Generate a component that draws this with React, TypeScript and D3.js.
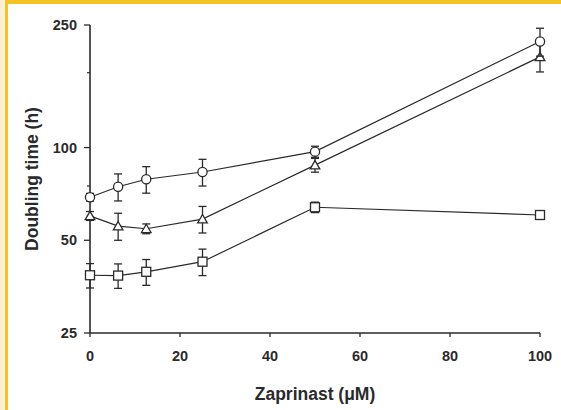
import React from 'react';
import * as d3 from 'd3';

// zaprinast concentrations (uM)
const doses = [0, 6.25, 12.5, 25, 50, 100];

// doubling time (h), mean and +/- error per series
const circleMean = [69, 74.6, 78.9, 83.3, 97, 221];
const circleErr = [2, 7.5, 7.8, 8.3, 4, 23];
const triangleMean = [60, 55.6, 54.5, 58.6, 87.7, 197];
const triangleErr = [2, 5.6, 2, 5.8, 4.5, 21];
const squareMean = [38.5, 38.4, 39.5, 42.6, 64, 60.4];
const squareErr = [3.5, 3.5, 3.8, 4.2, 2.5, 0];

const xTicks = [0, 20, 40, 60, 80, 100];
const yTicks = [25, 50, 100, 250];
const yMinorTicks = [37.5, 75, 175];

const W = 561;
const H = 410;
const ink = '#2a2a2a';
const font = '"Liberation Sans", Arial, sans-serif';

const x = d3.scaleLinear().domain([0, 100]).range([90, 540]);
const y = d3.scaleLog().domain([25, 250]).range([333, 25]);

type Shape = 'circle' | 'triangle' | 'square';

const Marker = ({ shape, cx, cy }: { shape: Shape; cx: number; cy: number }) => {
  const common = { fill: '#fff', stroke: ink, strokeWidth: 1.3 };
  if (shape === 'circle') return <circle cx={cx} cy={cy} r={4.6} {...common} />;
  if (shape === 'square') return <rect x={cx - 4.5} y={cy - 4.5} width={9} height={9} {...common} />;
  const tri = d3.symbol().type(d3.symbolTriangle).size(40)();
  return <path d={tri as string} transform={`translate(${cx},${cy + 1})`} {...common} />;
};

const Series = ({ mean, err, shape }: { mean: number[]; err: number[]; shape: Shape }) => {
  const line = d3.line<number>()
    .x((_, i) => x(doses[i]))
    .y((d) => y(d));
  return (
    <g>
      <path d={line(mean) as string} fill="none" stroke={ink} strokeWidth={1.2} />
      {mean.map((m, i) => {
        const e = err[i];
        if (!e) return null;
        const cx = x(doses[i]);
        const top = y(m + e);
        const bot = y(m - e);
        return (
          <g key={'e' + i} stroke={ink} strokeWidth={1.3}>
            <line x1={cx} x2={cx} y1={top} y2={bot} />
            <line x1={cx - 4} x2={cx + 4} y1={top} y2={top} />
            <line x1={cx - 4} x2={cx + 4} y1={bot} y2={bot} />
          </g>
        );
      })}
      {mean.map((m, i) => (
        <Marker key={'m' + i} shape={shape} cx={x(doses[i])} cy={y(m)} />
      ))}
    </g>
  );
};

export default function App() {
  return (
    <svg width={W} height={H} style={{ position: 'absolute', left: 0, top: 0, background: '#fff' }}>
      {/* frame */}
      <rect x={0} y={0} width={5} height={H} fill="#fdf0d6" />
      <rect x={5} y={0} width={3} height={H} fill="#f5c325" />
      <rect x={5} y={0} width={W - 5} height={4} fill="#f5c325" />

      {/* y axis */}
      <line x1={x(0)} x2={x(0)} y1={y(250)} y2={y(25)} stroke={ink} strokeWidth={1.6} />
      {yTicks.map((t) => (
        <g key={t}>
          <line x1={x(0) - 6} x2={x(0)} y1={y(t)} y2={y(t)} stroke={ink} strokeWidth={1.3} />
          <text x={77} y={y(t)} dy="0.35em" textAnchor="end" fontFamily={font} fontWeight="bold" fontSize={14.5} fill={ink}>
            {t}
          </text>
        </g>
      ))}
      {yMinorTicks.map((t) => (
        <line key={t} x1={x(0) - 3} x2={x(0)} y1={y(t)} y2={y(t)} stroke={ink} strokeWidth={1.2} />
      ))}
      <text
        transform={`translate(38,${(y(25) + y(250)) / 2}) rotate(-90)`}
        textAnchor="middle"
        fontFamily={font}
        fontWeight="bold"
        fontSize={17.5}
        fill={ink}
      >
        Doubling time (h)
      </text>

      {/* x axis */}
      <line x1={x(0)} x2={x(100)} y1={y(25)} y2={y(25)} stroke={ink} strokeWidth={1.6} />
      {xTicks.map((t) => (
        <g key={t}>
          <line x1={x(t)} x2={x(t)} y1={y(25)} y2={y(25) + 4} stroke={ink} strokeWidth={1.3} />
          <text x={x(t)} y={361} textAnchor="middle" fontFamily={font} fontWeight="bold" fontSize={14.5} fill={ink}>
            {t}
          </text>
        </g>
      ))}
      <text x={(x(0) + x(100)) / 2} y={400} textAnchor="middle" fontFamily={font} fontWeight="bold" fontSize={17.5} fill={ink}>
        Zaprinast (μM)
      </text>

      <Series mean={squareMean} err={squareErr} shape="square" />
      <Series mean={triangleMean} err={triangleErr} shape="triangle" />
      <Series mean={circleMean} err={circleErr} shape="circle" />
    </svg>
  );
}
